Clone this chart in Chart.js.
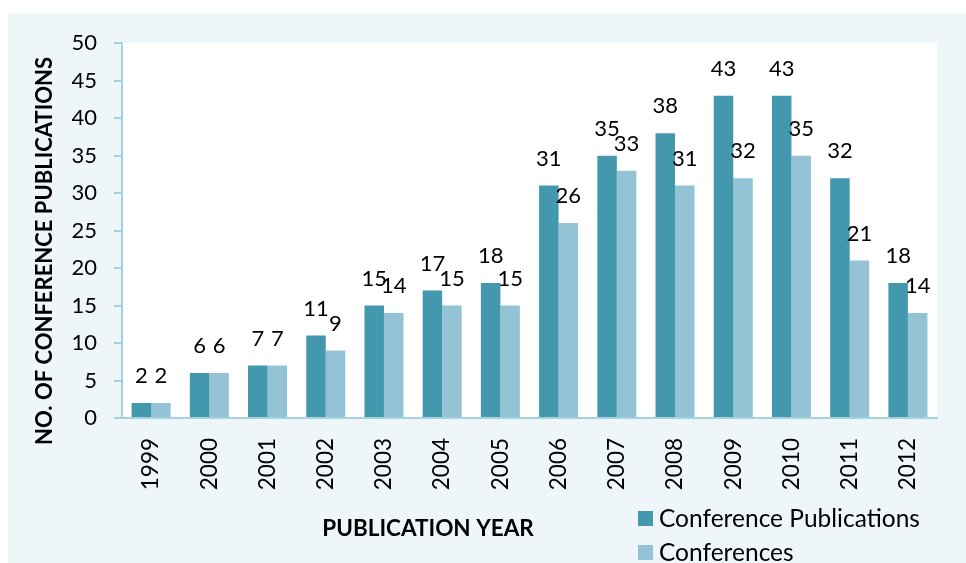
<!DOCTYPE html>
<html>
<head>
<meta charset="utf-8">
<script src="https://cdn.jsdelivr.net/npm/chart.js@4.4.0/dist/chart.umd.min.js"></script>
<style>
    body { margin: 0; background: #fff; }
    #wrap { position: absolute; left: 8px; top: 13px; width: 958px; height: 550px; background: #eff6f9; }
</style>
</head>
<body>
<div id="wrap"><canvas id="pub-chart" width="958" height="550"></canvas></div>
<script>
const years = ["1999", "2000", "2001", "2002", "2003", "2004", "2005", "2006", "2007", "2008", "2009", "2010", "2011", "2012"];
const conferencePublications = [2, 6, 7, 11, 15, 17, 18, 31, 35, 38, 43, 43, 32, 18];
const conferences = [2, 6, 7, 9, 14, 15, 15, 26, 33, 31, 32, 35, 21, 14];
const yTicks = [0, 5, 10, 15, 20, 25, 30, 35, 40, 45, 50];

const axisColor = "#a3d2e0";
Chart.defaults.font.family = "Lato";
Chart.defaults.color = "#000";

// white plot area, value labels, axis titles and legend
const extras = {
    id: "extras",
    beforeDraw(chart) {
        const a = chart.chartArea;
        const ctx = chart.ctx;
        ctx.save();
        ctx.fillStyle = "#fff";
        ctx.fillRect(a.left, a.top, a.right - a.left, a.bottom - a.top);
        ctx.restore();
    },
    afterDatasetsDraw(chart) {
        const ctx = chart.ctx;
        ctx.save();
        ctx.font = "22px Lato";
        ctx.fillStyle = "#000";
        ctx.textAlign = "center";
        ctx.textBaseline = "alphabetic";
        chart.data.datasets.forEach((ds, i) => {
            chart.getDatasetMeta(i).data.forEach((bar, j) => {
                ctx.fillText(String(ds.data[j]), bar.x, bar.y - 20);
            });
        });
        ctx.restore();
    },
    afterDraw(chart) {
        const ctx = chart.ctx;
        ctx.save();
        ctx.fillStyle = "#000";
        ctx.textAlign = "center";
        ctx.textBaseline = "middle";
        ctx.font = "bold 22.5px Lato";
        ctx.fillText("PUBLICATION YEAR", 420, 516);
        ctx.font = "bold 22px Lato";
        ctx.translate(37, 238);
        ctx.rotate(-Math.PI / 2);
        ctx.fillText("NO. OF CONFERENCE PUBLICATIONS", 0, 0);
        ctx.restore();

        ctx.save();
        ctx.font = "24.5px Lato";
        ctx.textAlign = "left";
        ctx.textBaseline = "middle";
        chart.data.datasets.forEach((ds, i) => {
            const y = 506 + i * 34;
            ctx.fillStyle = ds.backgroundColor;
            ctx.fillRect(630, y - 8, 15, 15);
            ctx.fillStyle = "#000";
            ctx.fillText(ds.label, 651, y);
        });
        ctx.restore();
    }
};

new Chart(document.querySelector("#pub-chart"), {
    type: "bar",
    data: {
        labels: years,
        datasets: [
            {
                label: "Conference Publications",
                data: conferencePublications,
                backgroundColor: "#4398ae",
                categoryPercentage: 0.67,
                barPercentage: 1.0
            },
            {
                label: "Conferences",
                data: conferences,
                backgroundColor: "#93c3d5",
                categoryPercentage: 0.67,
                barPercentage: 1.0
            }
        ]
    },
    options: {
        responsive: false,
        animation: false,
        layout: { padding: { top: 29, right: 29, left: 0, bottom: 0 } },
        scales: {
            x: {
                grid: { display: false },
                border: { display: true, color: axisColor, width: 2 },
                ticks: { minRotation: 90, maxRotation: 90, padding: 12, font: { size: 22.5 } },
                afterFit: scale => { scale.height = 145; }
            },
            y: {
                min: 0,
                max: 50,
                grid: { drawOnChartArea: false, drawTicks: true, tickLength: 8, color: axisColor, lineWidth: 2 },
                border: { display: true, color: axisColor, width: 2 },
                afterBuildTicks: scale => { scale.ticks = yTicks.map(v => ({ value: v })); },
                ticks: { padding: 17, font: { size: 22 } },
                afterFit: scale => { scale.width = 114; }
            }
        },
        plugins: {
            legend: { display: false },
            tooltip: { enabled: false }
        }
    },
    plugins: [extras]
});
</script>
</body>
</html>
